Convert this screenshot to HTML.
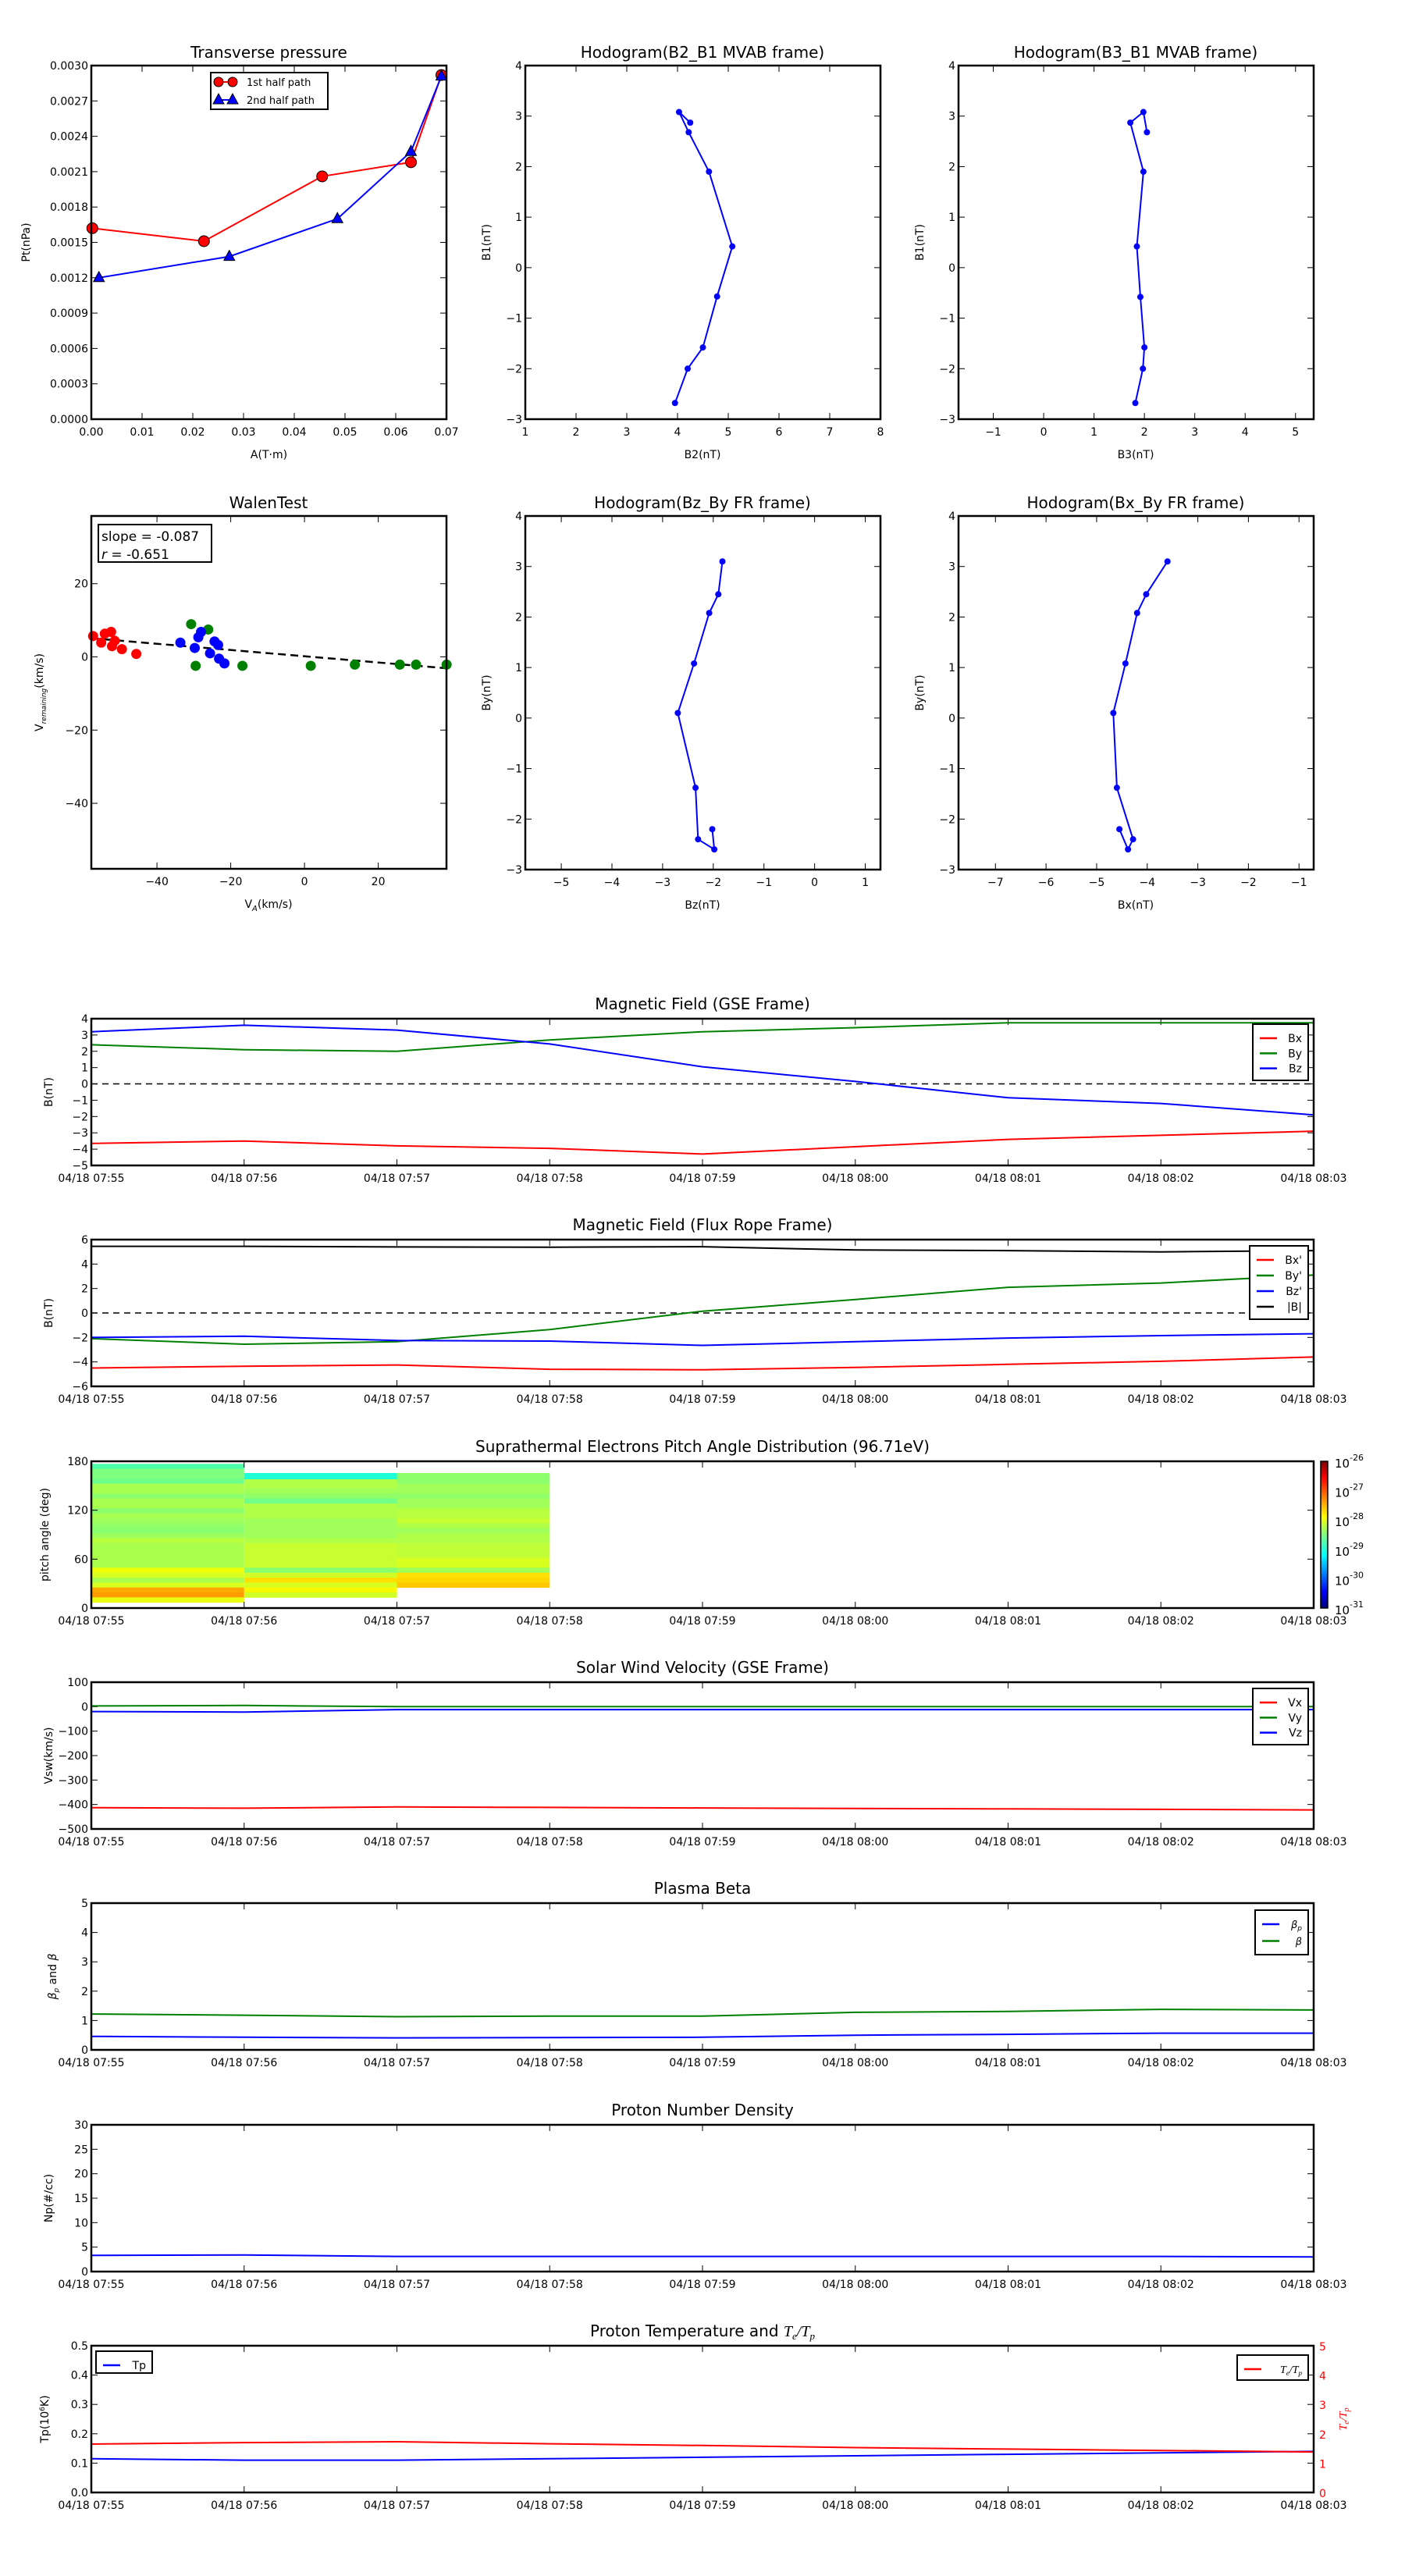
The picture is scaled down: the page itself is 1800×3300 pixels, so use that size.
<!DOCTYPE html>
<html><head><meta charset="utf-8"><style>
html,body{margin:0;padding:0;background:#fff;}
svg{display:block;font-family:"DejaVu Sans","Liberation Sans",sans-serif;}
</style></head><body>
<svg id="s" xmlns="http://www.w3.org/2000/svg" width="1800" height="3300" viewBox="0 0 1800 3300">
<defs><linearGradient id="jet" x1="0" y1="1" x2="0" y2="0">
<stop offset="0" stop-color="#00007f"/><stop offset="0.11" stop-color="#0000ff"/><stop offset="0.36" stop-color="#00ffff"/><stop offset="0.5" stop-color="#7fff7f"/><stop offset="0.62" stop-color="#ffff00"/><stop offset="0.89" stop-color="#ff0000"/><stop offset="1" stop-color="#7f0000"/></linearGradient></defs>
</svg>
<script>
var S=document.getElementById('s'),out='';
function ln(x1,y1,x2,y2,c,w,d){out+='<line x1="'+x1+'" y1="'+y1+'" x2="'+x2+'" y2="'+y2+'" stroke="'+(c||'#000')+'" stroke-width="'+(w||1)+'"'+(d?' stroke-dasharray="'+d+'"':'')+'/>';}
function tx(x,y,t,o){o=o||{};out+='<text x="'+x+'" y="'+y+'" font-size="'+(o.fs||14)+'" text-anchor="'+(o.a||'middle')+'" fill="'+(o.c||'#000')+'"'+(o.r?' transform="rotate(-90 '+x+' '+y+')"':'')+(o.st?' font-style="italic"':'')+'>'+t+'</text>';}
function Ax(l,t,w,h,xr,yr){return {l:l,t:t,w:w,h:h,X:function(v){return l+(v-xr[0])/(xr[1]-xr[0])*w},Y:function(v){return t+h-(v-yr[0])/(yr[1]-yr[0])*h}};}
function box(a){out+='<rect x="'+a.l+'" y="'+a.t+'" width="'+a.w+'" height="'+a.h+'" fill="none" stroke="#000" stroke-width="2.5"/>';}
function xt(a,vals,labs,noTop){vals.forEach(function(v,i){var x=a.X(v);ln(x,a.t+a.h,x,a.t+a.h-8);if(!noTop)ln(x,a.t,x,a.t+8);tx(x,a.t+a.h+21,labs[i]);});}
function yt(a,vals,labs,right){vals.forEach(function(v,i){var y=a.Y(v);ln(a.l,y,a.l+8,y);if(!right)ln(a.l+a.w,y,a.l+a.w-8,y);tx(a.l-4,y+5,labs[i],{a:'end'});});}
function pl(a,xs,ys,c,w,d){var p=xs.map(function(x,i){return a.X(x).toFixed(1)+','+a.Y(ys[i]).toFixed(1)}).join(' ');out+='<polyline points="'+p+'" fill="none" stroke="'+c+'" stroke-width="'+(w||2)+'"'+(d?' stroke-dasharray="'+d+'"':'')+'/>';}
function dots(a,pts,c,r){pts.forEach(function(p){out+='<circle cx="'+a.X(p[0])+'" cy="'+a.Y(p[1])+'" r="'+(r||3.5)+'" fill="'+c+'"/>';});}
function rng(a,b,s){var r=[];for(var v=a;v<=b+1e-9;v+=s)r.push(+v.toFixed(6));return r;}
var R1T=84,R1H=453,R2T=661,R2H=452;
var a=Ax(117,R1T,455,R1H,[0,0.07],[0,0.003]);
tx(a.l+a.w/2,R1T-10,'Transverse pressure',{fs:20});
var xv=rng(0,0.07,0.01);xt(a,xv,xv.map(function(v){return v.toFixed(2)}));
var yv=rng(0,0.003,0.0003);yt(a,yv,yv.map(function(v){return v.toFixed(4)}));
tx(a.l+a.w/2,R1T+R1H+50,'A(T·m)');tx(38,a.t+a.h/2,'Pt(nPa)',{r:1});
var rx=[0.0002,0.0222,0.0455,0.063,0.069],ry=[0.00162,0.00151,0.00206,0.00218,0.00292];
var bx=[0.0015,0.0272,0.0485,0.063,0.069],by=[0.00120,0.00138,0.00170,0.00227,0.00291];
pl(a,rx,ry,'red',2);pl(a,bx,by,'blue',2);
rx.forEach(function(x,i){out+='<circle cx="'+a.X(x)+'" cy="'+a.Y(ry[i])+'" r="7" fill="red" stroke="#000"/>';});
function tri(x,y,c){out+='<polygon points="'+x+','+(y-8)+' '+(x-7)+','+(y+5)+' '+(x+7)+','+(y+5)+'" fill="'+c+'" stroke="#000"/>';}
bx.forEach(function(x,i){tri(a.X(x),a.Y(by[i]),'blue');});
out+='<rect x="270" y="93" width="150" height="47" fill="#fff" stroke="#000" stroke-width="2"/>';
ln(278,105,300,105,'red',2);out+='<circle cx="280" cy="105" r="6" fill="red" stroke="#000"/><circle cx="298" cy="105" r="6" fill="red" stroke="#000"/>';
ln(278,128,300,128,'blue',2);tri(280,128,'blue');tri(298,128,'blue');
tx(316,110,'1st half path',{a:'start',fs:13});tx(316,133,'2nd half path',{a:'start',fs:13});
function hodo(l,t,title,xr,yr,xs,xl,yl,pts){var a=Ax(l,t,455,R1H,xr,yr);tx(l+227,t-10,title,{fs:20});
var xv=rng(xs[0],xs[1],1);xt(a,xv,xv.map(function(v){return v<0?'−'+(-v):''+v}));
var yv=rng(yr[0],yr[1],1);yt(a,yv,yv.map(function(v){return v<0?'−'+(-v):''+v}));
tx(l+227,t+R1H+50,xl);tx(l-45,t+R1H/2,yl,{r:1});
pl(a,pts.map(function(p){return p[0]}),pts.map(function(p){return p[1]}),'blue',2);dots(a,pts,'blue',4);return a;}
var a2=hodo(673,R1T,'Hodogram(B2_B1 MVAB frame)',[1,8],[-3,4],[1,8],'B2(nT)','B1(nT)',[[3.95,-2.68],[4.2,-2.0],[4.5,-1.58],[4.78,-0.57],[5.08,0.42],[4.62,1.9],[4.22,2.68],[4.03,3.08],[4.25,2.87]]);
var a3=hodo(1228,R1T,'Hodogram(B3_B1 MVAB frame)',[-1.69,5.36],[-3,4],[-1,5],'B3(nT)','B1(nT)',[[1.82,-2.68],[1.97,-2.0],[2.0,-1.58],[1.92,-0.58],[1.85,0.42],[1.98,1.9],[1.72,2.87],[1.98,3.08],[2.05,2.68]]);
var a5=hodo(673,R2T,'Hodogram(Bz_By FR frame)',[-5.71,1.3],[-3,4],[-5,1],'Bz(nT)','By(nT)',[[-1.82,3.1],[-1.9,2.45],[-2.08,2.08],[-2.38,1.08],[-2.7,0.1],[-2.35,-1.38],[-2.3,-2.4],[-1.98,-2.6],[-2.02,-2.2]]);
var a6=hodo(1228,R2T,'Hodogram(Bx_By FR frame)',[-7.73,-0.71],[-3,4],[-7,-1],'Bx(nT)','By(nT)',[[-3.6,3.1],[-4.02,2.45],[-4.2,2.08],[-4.43,1.08],[-4.67,0.1],[-4.6,-1.38],[-4.28,-2.4],[-4.38,-2.6],[-4.55,-2.2]]);
var w=Ax(117,R2T,455,R2H,[-57.8,38.5],[-57.9,38.5]);
tx(w.l+227,R2T-10,'WalenTest',{fs:20});
xt(w,[-40,-20,0,20],['−40','−20','0','20']);yt(w,[20,0,-20,-40],['20','0','−20','−40']);
out+='<text x="'+(w.l+227)+'" y="'+(R2T+R2H+50)+'" font-size="14" text-anchor="middle">V<tspan font-size="10" dy="4" font-style="italic">A</tspan><tspan dy="-4">(km/s)</tspan></text>';
out+='<text transform="rotate(-90 55 '+(R2T+R2H/2)+')" x="55" y="'+(R2T+R2H/2)+'" font-size="14" text-anchor="middle">V<tspan font-size="9" dy="4" font-style="italic">remaining</tspan><tspan dy="-4">(km/s)</tspan></text>';
function zw(p){return [(p[0]-339)/4.1,(1102-p[1])/6.15];}
ln(w.X(-57.8),w.Y(5.1),w.X(38.5),w.Y(-3.1),'#000',2.5,'10,6');
dots(w,[[104,1067],[113,1078],[117,1063],[124,1060],[125,1084],[128,1075],[136,1089],[152,1097]].map(zw),'red',6.5);
dots(w,[[213,1047],[232,1056],[218,1117],[270,1117],[346,1117],[395,1115],[445,1115],[463,1115],[497,1115]].map(zw),'green',6.5);
dots(w,[[201,1078],[217,1087],[221,1069],[224,1060],[234,1096],[239,1076],[243,1082],[244,1105],[250,1113]].map(zw),'blue',6.5);
out+='<rect x="126" y="672" width="145" height="48" fill="#fff" stroke="#000" stroke-width="2"/>';
tx(130,693,'slope = -0.087',{a:'start',fs:17});tx(130,716,'<tspan font-style="italic">r</tspan> = -0.651',{a:'start',fs:17});
var TL=117,TW=1566,TH=188,tops=[1305,1588,1872,2155,2438,2722,3005];
var tl=['04/18 07:55','04/18 07:56','04/18 07:57','04/18 07:58','04/18 07:59','04/18 08:00','04/18 08:01','04/18 08:02','04/18 08:03'];
var T=[0,1,2,3,4,5,6,7,8];
function panel(i,title,yr,yv,yl,ylab,noRightTicks){var a=Ax(TL,tops[i],TW,TH,[0,8],yr);tx(TL+TW/2,tops[i]-12,title,{fs:20});
xt(a,T,tl);yt(a,yv,yl,noRightTicks);tx(67,tops[i]+TH/2,ylab,{r:1});return a;}
function leg(x,y,w,h,items,fs){out+='<rect x="'+x+'" y="'+y+'" width="'+w+'" height="'+h+'" fill="#fff" stroke="#000" stroke-width="2"/>';
items.forEach(function(it,k){var yy=y+18+k*(h-14)/items.length;ln(x+9,yy,x+31,yy,it[1],2.5);out+='<text x="'+(x+w-8)+'" y="'+(yy+5)+'" font-size="'+(fs||14)+'" text-anchor="end">'+it[0]+'</text>';});}
function neg(v){return v<0?'−'+(-v):''+v}
var p=panel(0,'Magnetic Field (GSE Frame)',[-5,4],rng(-5,4,1),rng(-5,4,1).map(neg),'B(nT)');
ln(TL,p.Y(0),TL+TW,p.Y(0),'#000',1.5,'8,6');
pl(p,T,[-3.65,-3.5,-3.8,-3.95,-4.3,-3.85,-3.4,-3.15,-2.9],'red');
pl(p,T,[2.4,2.1,2.0,2.7,3.2,3.45,3.75,3.75,3.75],'green');
pl(p,T,[3.2,3.6,3.3,2.45,1.05,0.15,-0.85,-1.2,-1.9],'blue');
leg(1605,1312,71,72,[['Bx','red'],['By','green'],['Bz','blue']]);
p=panel(1,'Magnetic Field (Flux Rope Frame)',[-6,6],rng(-6,6,2),rng(-6,6,2).map(neg),'B(nT)');
ln(TL,p.Y(0),TL+TW,p.Y(0),'#000',1.5,'8,6');
pl(p,T,[5.45,5.45,5.4,5.38,5.42,5.15,5.1,5.0,5.1],'black');
pl(p,T,[-4.5,-4.35,-4.25,-4.6,-4.65,-4.45,-4.2,-3.95,-3.6],'red');
pl(p,T,[-2.1,-2.55,-2.35,-1.35,0.15,1.1,2.1,2.45,3.1],'green');
pl(p,T,[-2.0,-1.9,-2.25,-2.3,-2.65,-2.35,-2.05,-1.85,-1.7],'blue');
leg(1601,1596,75,94,[["Bx'",'red'],["By'",'green'],["Bz'",'blue'],['|B|','black']]);
p=Ax(TL,tops[2],TW,TH,[0,8],[0,180]);tx(TL+TW/2,tops[2]-12,'Suprathermal Electrons Pitch Angle Distribution (96.71eV)',{fs:20});
var cols=[[0,1,[[46,65,'#4dffa8'],[65,103,'#7fff7f'],[103,122,'#6cff8c'],[122,160,'#a8ff4e'],[160,179,'#8cff6c'],[179,217,'#a8ff4e'],[217,236,'#8cff6c'],[236,255,'#a8ff4e'],[255,274,'#9cff5c'],[274,293,'#90ff68'],[293,312,'#88ff70'],[312,331,'#9cff5c'],[331,350,'#b8ff40'],[350,445,'#aaff4c'],[445,464,'#f0ff08'],[464,483,'#d8ff20'],[483,502,'#a8ff4e'],[502,521,'#d8ff20'],[521,540,'#ffa800'],[540,559,'#ff9c00'],[559,578,'#e8ff10']]],
[1,2,[[81,105,'#1effd8'],[105,141,'#b0ff48'],[141,160,'#a0ff58'],[160,179,'#90ff68'],[179,198,'#70ff88'],[198,255,'#b0ff48'],[255,331,'#a0ff58'],[331,350,'#b0ff48'],[350,445,'#c8ff30'],[445,464,'#88ff70'],[464,483,'#d0ff28'],[483,502,'#ffe000'],[502,521,'#d8ff20'],[521,540,'#f8f800'],[540,559,'#d0ff28']]],
[2,3,[[81,122,'#8cff6c'],[122,160,'#a0ff58'],[160,179,'#90ff68'],[179,217,'#a0ff58'],[217,255,'#b8ff40'],[255,274,'#c8ff30'],[274,293,'#b0ff48'],[293,312,'#a0ff58'],[312,350,'#b0ff48'],[350,407,'#c0ff38'],[407,445,'#d8ff20'],[445,464,'#a0ff58'],[464,483,'#ffe000'],[483,502,'#ffd800'],[502,521,'#ffc800']]]];
cols.forEach(function(c){var x1=p.X(c[0]),x2=p.X(c[1]);c[2].forEach(function(b){var y1=1860+b[0]/3,y2=1860+b[1]/3;out+='<rect x="'+x1.toFixed(1)+'" y="'+y1.toFixed(1)+'" width="'+(x2-x1).toFixed(1)+'" height="'+(y2-y1+0.5).toFixed(1)+'" fill="'+b[2]+'"/>';});});
xt(p,T,tl);yt(p,[0,60,120,180],['0','60','120','180']);tx(62,tops[2]+TH/2,'pitch angle (deg)',{r:1});
out+='<rect x="1692" y="1872" width="9" height="188" fill="url(#jet)" stroke="#000" stroke-width="1.5"/>';
for(var k=0;k<=5;k++){var yy=1872+k*188/5;out+='<text x="1710" y="'+(yy+8)+'" font-size="15">10<tspan font-size="11" dy="-9">-'+(26+k)+'</tspan></text>';}
p=panel(3,'Solar Wind Velocity (GSE Frame)',[-500,100],rng(-500,100,100),rng(-500,100,100).map(neg),'Vsw(km/s)');
pl(p,T,[-413,-415,-410,-412,-414,-416,-418,-420,-422],'red');
pl(p,T,[3,5,0,0,0,0,0,0,0],'green');
pl(p,T,[-20,-22,-12,-12,-12,-12,-12,-12,-12],'blue');
leg(1605,2163,71,72,[['Vx','red'],['Vy','green'],['Vz','blue']]);
p=panel(4,'Plasma Beta',[0,5],rng(0,5,1),rng(0,5,1).map(String),'');
out+='<text transform="rotate(-90 72 2532)" x="72" y="2532" font-size="14" text-anchor="middle"><tspan font-style="italic">β</tspan><tspan font-size="9" dy="3" font-style="italic">p</tspan><tspan dy="-3"> and </tspan><tspan font-style="italic">β</tspan></text>';
pl(p,T,[1.22,1.18,1.13,1.15,1.15,1.28,1.31,1.38,1.36],'green');
pl(p,T,[0.46,0.43,0.41,0.42,0.43,0.5,0.53,0.57,0.57],'blue');
leg(1608,2447,68,57,[['<tspan font-style="italic">β<tspan font-size="9" dy="3">p</tspan></tspan>','blue'],['<tspan font-style="italic">β</tspan>','green']],13);
p=panel(5,'Proton Number Density',[0,30],rng(0,30,5),rng(0,30,5).map(String),'Np(#/cc)');
pl(p,T,[3.3,3.4,3.1,3.1,3.1,3.1,3.1,3.1,3.0],'blue');
p=Ax(TL,tops[6],TW,TH,[0,8],[0,0.5]);
out+='<text x="'+(TL+TW/2)+'" y="'+(tops[6]-12)+'" font-size="20" text-anchor="middle">Proton Temperature and <tspan font-family="Liberation Serif" font-style="italic">T<tspan font-size="13" dy="4">e</tspan><tspan dy="-4">/T</tspan><tspan font-size="13" dy="4">p</tspan></tspan></text>';
xt(p,T,tl);yt(p,rng(0,0.5,0.1),rng(0,0.5,0.1).map(function(v){return v.toFixed(1)}),true);
var r2=Ax(TL,tops[6],TW,TH,[0,8],[0,5]);
[0,1,2,3,4,5].forEach(function(v){var y=r2.Y(v);ln(TL+TW,y,TL+TW-8,y);tx(TL+TW+7,y+6,''+v,{a:'start',c:'red'});});
out+='<text transform="rotate(-90 62 3099)" x="62" y="3099" font-size="14" text-anchor="middle">Tp(10<tspan font-size="9" dy="-5">6</tspan><tspan dy="5">K)</tspan></text>';
out+='<text transform="rotate(-90 1725 3099)" x="1725" y="3099" font-size="14" fill="red" text-anchor="middle" font-style="italic" font-family="Liberation Serif">T<tspan font-size="10" dy="3">e</tspan><tspan dy="-3">/T</tspan><tspan font-size="10" dy="3">p</tspan></text>';
pl(p,T,[0.115,0.11,0.11,0.115,0.12,0.125,0.13,0.135,0.14],'blue');
pl(r2,T,[1.65,1.7,1.73,1.66,1.6,1.53,1.48,1.43,1.38],'red');
leg(123,3012,72,28,[['Tp','blue']]);
leg(1585,3017,91,32,[['<tspan font-style="italic" font-family="Liberation Serif">T<tspan font-size="9" dy="3">e</tspan><tspan dy="-3">/T</tspan><tspan font-size="9" dy="3">p</tspan></tspan>','red']]);
[a,a2,a3,a5,a6,w].forEach(box);
tops.forEach(function(t){box({l:TL,t:t,w:TW,h:TH});});
S.insertAdjacentHTML('beforeend',out);
</script>
</body></html>
